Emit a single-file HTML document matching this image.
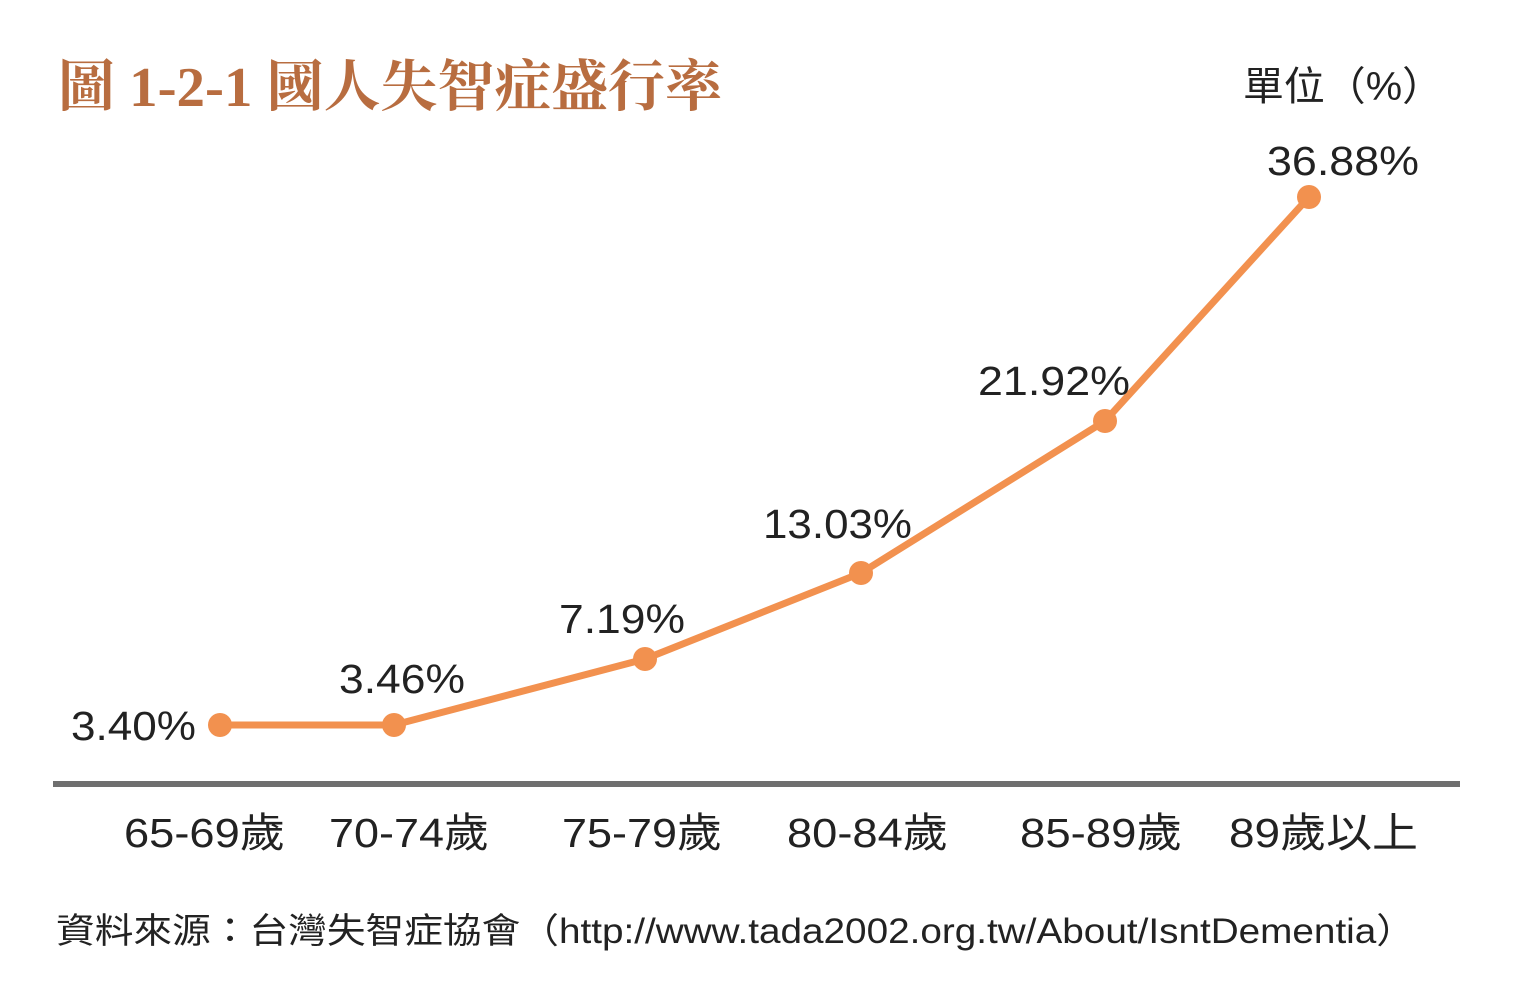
<!DOCTYPE html>
<html><head><meta charset="utf-8"><style>
body{margin:0;background:#fff;width:1536px;height:998px;overflow:hidden}
svg text{font-family:"Liberation Sans","Noto Sans CJK TC",sans-serif;fill:#222}
</style></head><body>
<svg width="1536" height="998" viewBox="0 0 1536 998">
<text x="58" y="106" textLength="664" lengthAdjust="spacingAndGlyphs" style="font-family:'Liberation Serif','Noto Serif CJK SC',serif;font-weight:bold;font-size:56px;fill:#b86d40">圖 1-2-1 國人失智症盛行率</text>
<text x="1243" y="100" font-size="40" textLength="200" lengthAdjust="spacingAndGlyphs">單位（%）</text>
<line x1="53" y1="784" x2="1460" y2="784" stroke="#6f6f6f" stroke-width="6"/>
<polyline points="220,725 394,725 645,659 861,573 1105,421 1309,197" fill="none" stroke="#f2914f" stroke-width="7" stroke-linejoin="round"/>
<g fill="#f2914f">
<circle cx="220" cy="725" r="12"/><circle cx="394" cy="725" r="12"/><circle cx="645" cy="659" r="12"/><circle cx="861" cy="573" r="12"/><circle cx="1105" cy="421" r="12"/><circle cx="1309" cy="197" r="12"/>
</g>
<g font-size="41">
<text x="71" y="740" textLength="125" lengthAdjust="spacingAndGlyphs">3.40%</text>
<text x="339" y="693" textLength="126" lengthAdjust="spacingAndGlyphs">3.46%</text>
<text x="559" y="633" textLength="126" lengthAdjust="spacingAndGlyphs">7.19%</text>
<text x="763" y="538" textLength="149" lengthAdjust="spacingAndGlyphs">13.03%</text>
<text x="978" y="395" textLength="152" lengthAdjust="spacingAndGlyphs">21.92%</text>
<text x="1267" y="175" textLength="152" lengthAdjust="spacingAndGlyphs">36.88%</text>
</g>
<g font-size="41">
<text x="124" y="847" textLength="161" lengthAdjust="spacingAndGlyphs">65-69歲</text>
<text x="329" y="847" textLength="160" lengthAdjust="spacingAndGlyphs">70-74歲</text>
<text x="562" y="847" textLength="160" lengthAdjust="spacingAndGlyphs">75-79歲</text>
<text x="787" y="847" textLength="161" lengthAdjust="spacingAndGlyphs">80-84歲</text>
<text x="1020" y="847" textLength="162" lengthAdjust="spacingAndGlyphs">85-89歲</text>
<text x="1229" y="847" textLength="189" lengthAdjust="spacingAndGlyphs">89歲以上</text>
</g>
<text x="56" y="943" font-size="35" fill="#333" textLength="1359" lengthAdjust="spacingAndGlyphs">資料來源：台灣失智症協會（http://www.tada2002.org.tw/About/IsntDementia）</text>
</svg>
</body></html>
